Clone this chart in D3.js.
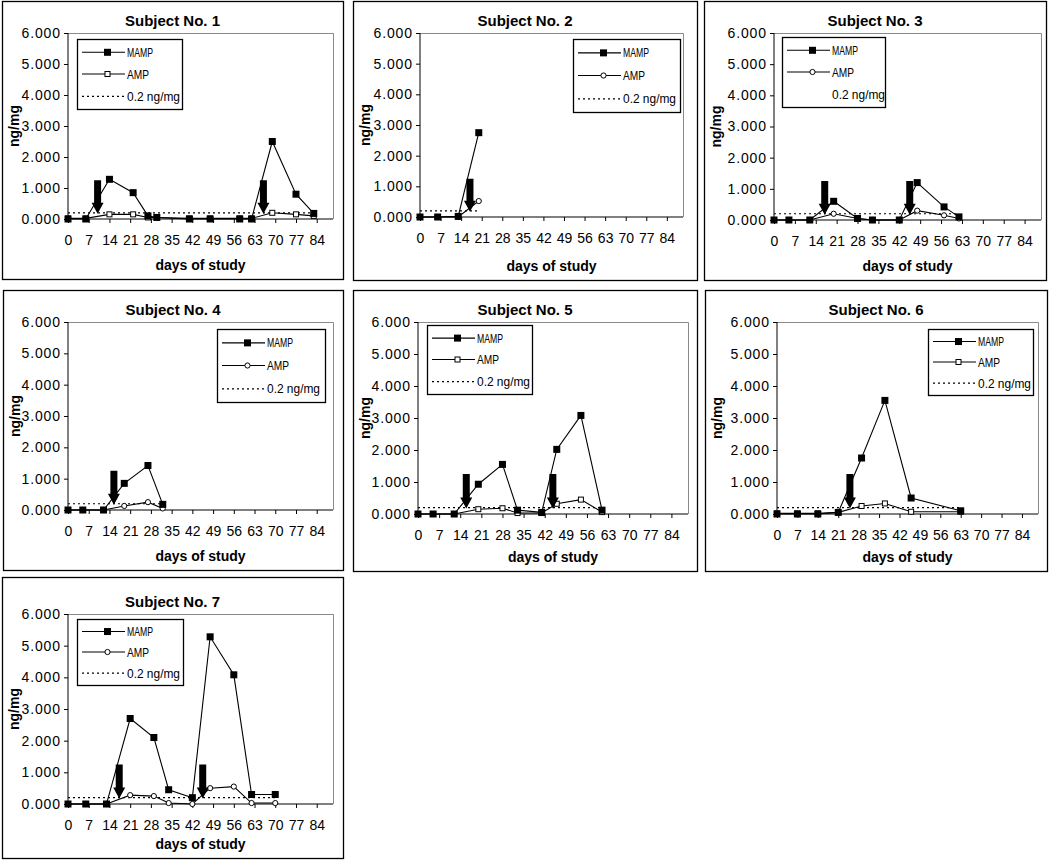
<!DOCTYPE html>
<html><head><meta charset="utf-8">
<script src="https://cdn.jsdelivr.net/npm/d3@7"></script>
<style>body{margin:0;background:#fff}svg{display:block}</style>
</head><body><svg id="c" width="1050" height="861"></svg>
<script>
// ---------- data ----------
const titles = ["Subject No. 1","Subject No. 2","Subject No. 3","Subject No. 4","Subject No. 5","Subject No. 6","Subject No. 7"];
const days1 = [0,6,14,22,27,30,41,48,58,62,69,77,83];
const mamp1 = [0,0,1.28,0.85,0.1,0.05,0,0,0,0,2.5,0.8,0.18];
const amp1  = [0.02,0.02,0.15,0.15,0.05,0.05,0.02,0.02,0.02,0.02,0.2,0.15,0.1];
const arrows1 = [10,66];
const days2 = [0,6,13,20];
const mamp2 = [0,0,0.02,2.75];
const amp2  = [0,0,0,0.52];
const arrows2 = [17];
const days3 = [0,5,12,20,28,33,42,48,57,62];
const mamp3 = [0,0,0,0.6,0.05,0,0,1.2,0.42,0.1];
const amp3  = [0,0,0,0.2,0.05,0,0,0.3,0.15,0.05];
const arrows3 = [17,45.5];
const days4 = [0,5,12,19,27,32];
const mamp4 = [0,0,0,0.85,1.42,0.18];
const amp4  = [0,0,0,0.13,0.25,0.05];
const arrows4 = [15.5];
const days5 = [0,5,12,20,28,33,41,46,54,61];
const mamp5 = [0,0,0,0.93,1.55,0.12,0.05,2.02,3.08,0.12];
const amp5  = [0,0,0,0.15,0.18,0.03,0.03,0.32,0.45,0.06];
const arrows5 = [16,44.7];
const days6 = [0,7,14,21,29,37,46,63];
const mamp6 = [0,0,0,0.05,1.75,3.55,0.5,0.1];
const amp6  = [0.02,0.02,0.02,0.05,0.25,0.33,0.07,0.07];
const arrows6 = [25];
const days7 = [0,6,13,21,29,34,42,48,56,62,70];
const mamp7 = [0,0,0,2.7,2.1,0.45,0.2,5.28,4.08,0.3,0.3];
const amp7  = [0,0,0,0.28,0.25,0.03,0,0.5,0.55,0.03,0.03];
const arrows7 = [17.3,45.5];
const xTicks = [0,7,14,21,28,35,42,49,56,63,70,77,84];
const yTicks = [0,1,2,3,4,5,6];
const threshold = 0.2;
const seriesNames = ["MAMP","AMP","0.2 ng/mg"];
const xLabel = "days of study";
const yLabel = "ng/mg";

// ---------- layout ----------
const layout = [
 {box:[2,1,341,278],   plot:[68,33,333,219],   leg:[77,39,105,70],   amp:"sq", dotLeg:true},
 {box:[353,1,344,279], plot:[420,33,683,217],  leg:[573,39,107,73],  amp:"ci", dotLeg:true},
 {box:[704,1,342,279], plot:[774,33,1041,220], leg:[782,37,103,70],  amp:"ci", dotLeg:false},
 {box:[3,290,340,280], plot:[68,322,333,510],  leg:[217,329,108,73], amp:"ci", dotLeg:true},
 {box:[353,290,344,281],plot:[418,322,688,514],leg:[427,325,105,69], amp:"sq", dotLeg:true},
 {box:[705,290,342,281],plot:[777,322,1038,514],leg:[928,329,105,66],amp:"sq", dotLeg:true},
 {box:[2,577,341,281], plot:[68,614,333,804],  leg:[77,619,106,66],  amp:"ci", dotLeg:true}
];
const panels = [
 [days1,mamp1,amp1,arrows1],[days2,mamp2,amp2,arrows2],[days3,mamp3,amp3,arrows3],
 [days4,mamp4,amp4,arrows4],[days5,mamp5,amp5,arrows5],[days6,mamp6,amp6,arrows6],
 [days7,mamp7,amp7,arrows7]
];

const svg = d3.select("#c");
const FONT = "Liberation Sans, Arial, sans-serif";
const fmt = d3.format(".3f");

function drawAmp(g, x, y, shape){
  if(shape==="sq") g.append("rect").attr("x",x-2.5).attr("y",y-2.5).attr("width",5).attr("height",5)
     .attr("fill","#fff").attr("stroke","#000").attr("stroke-width",1);
  else g.append("circle").attr("cx",x).attr("cy",y).attr("r",2.6)
     .attr("fill","#fff").attr("stroke","#000").attr("stroke-width",1);
}
function drawMamp(g,x,y){
  g.append("rect").attr("x",x-3.5).attr("y",y-3.5).attr("width",7).attr("height",7).attr("fill","#000");
}

panels.forEach((p,i)=>{
  const [days,mamp,amp,arrows] = p;
  const L = layout[i];
  const [bx,by,bw,bh] = L.box;
  const [pl,pt,pr,pb] = L.plot;
  const g = svg.append("g");
  g.append("rect").attr("x",bx+0.5).attr("y",by+0.5).attr("width",bw).attr("height",bh)
    .attr("fill","#fff").attr("stroke","#000").attr("stroke-width",1.3);

  const x = d3.scaleLinear().domain([0,89.5]).range([pl,pr]);
  const y = d3.scaleLinear().domain([0,6]).range([pb,pt]);

  // plot border (grey top/right)
  g.append("path").attr("d",`M${pl},${pt+0.5}H${pr+0.5}V${pb}`).attr("fill","none").attr("stroke","#8a8a8a").attr("stroke-width",1);

  // axes
  const ya = d3.axisLeft(y).tickValues(yTicks).tickFormat(fmt).tickSize(4).tickPadding(3);
  const yg = g.append("g").attr("transform",`translate(${pl},0)`).call(ya);
  yg.select(".domain").attr("stroke","#000").attr("d",`M0,${pt}V${pb}`);
  yg.selectAll("text").attr("font-family",FONT).attr("font-size",14).attr("letter-spacing",0.9).attr("fill","#000");
  const xa = d3.axisBottom(x).tickValues(xTicks).tickFormat(d3.format("d")).tickSize(4).tickPadding(12);
  const xg = g.append("g").attr("transform",`translate(0,${pb})`).call(xa);
  xg.select(".domain").attr("stroke","#000").attr("d",`M${pl},0H${pr}`);
  xg.selectAll("text").attr("font-family",FONT).attr("font-size",14).attr("fill","#000");

  // threshold dotted line
  g.append("line").attr("x1",x(days[0])).attr("x2",x(days[days.length-1]))
    .attr("y1",y(threshold)).attr("y2",y(threshold))
    .attr("stroke","#000").attr("stroke-width",1.2).attr("stroke-dasharray","2,3");

  const line = d3.line().x(d=>x(d[0])).y(d=>y(d[1]));
  const ampPts = days.map((d,k)=>[d,amp[k]]);
  const mampPts = days.map((d,k)=>[d,mamp[k]]);
  g.append("path").attr("d",line(ampPts)).attr("fill","none").attr("stroke","#000").attr("stroke-width",1.1);
  g.append("path").attr("d",line(mampPts)).attr("fill","none").attr("stroke","#000").attr("stroke-width",1.1);
  ampPts.forEach(d=>drawAmp(g,x(d[0]),y(d[1]),L.amp));
  mampPts.forEach(d=>drawMamp(g,x(d[0]),y(d[1])));

  // arrows
  arrows.forEach(a=>{
    const cx = x(a), yT = y(1.25), yTip = y(0.17), yH = yTip-11;
    g.append("path").attr("d",`M${cx-3.5},${yT}L${cx+3.5},${yT}L${cx+3.5},${yH}L${cx+6},${yH}L${cx},${yTip}L${cx-6},${yH}L${cx-3.5},${yH}Z`)
      .attr("fill","#000");
  });

  // title and axis labels
  g.append("text").attr("x",bx+bw/2).attr("y",pt-7).attr("text-anchor","middle")
    .attr("font-family",FONT).attr("font-weight","bold").attr("font-size",15).text(titles[i]);
  g.append("text").attr("x",(pl+pr)/2).attr("y",by+bh-9).attr("text-anchor","middle")
    .attr("font-family",FONT).attr("font-weight","bold").attr("font-size",14).text(xLabel);
  g.append("text").attr("transform",`translate(${bx+17},${(pt+pb)/2}) rotate(-90)`).attr("text-anchor","middle")
    .attr("font-family",FONT).attr("font-weight","bold").attr("font-size",14).text(yLabel);

  // legend
  const [lx,ly,lw,lh] = L.leg;
  const lg = g.append("g");
  lg.append("rect").attr("x",lx+0.5).attr("y",ly+0.5).attr("width",lw).attr("height",lh)
    .attr("fill","#fff").attr("stroke","#000").attr("stroke-width",1.3);
  const rowY = [ly+lh*0.19, ly+lh*0.5, ly+lh*0.82];
  const sx1 = lx+5, sx2 = lx+48, tx = lx+50;
  lg.append("line").attr("x1",sx1).attr("x2",sx2).attr("y1",rowY[0]).attr("y2",rowY[0]).attr("stroke","#000").attr("stroke-width",1.1);
  drawMamp(lg,(sx1+sx2)/2+4,rowY[0]);
  lg.append("line").attr("x1",sx1).attr("x2",sx2).attr("y1",rowY[1]).attr("y2",rowY[1]).attr("stroke","#000").attr("stroke-width",1.1);
  drawAmp(lg,(sx1+sx2)/2+4,rowY[1],L.amp);
  if(L.dotLeg) lg.append("line").attr("x1",sx1).attr("x2",sx2).attr("y1",rowY[2]).attr("y2",rowY[2])
    .attr("stroke","#000").attr("stroke-width",1.2).attr("stroke-dasharray","2,3");
  const widths = [26,22,53];
  seriesNames.forEach((s,k)=>{
    lg.append("text").attr("x",tx).attr("y",rowY[k]+4.5).attr("font-family",FONT).attr("font-size",13)
      .attr("textLength",widths[k]).attr("lengthAdjust","spacingAndGlyphs").text(s);
  });
});
</script></body></html>
